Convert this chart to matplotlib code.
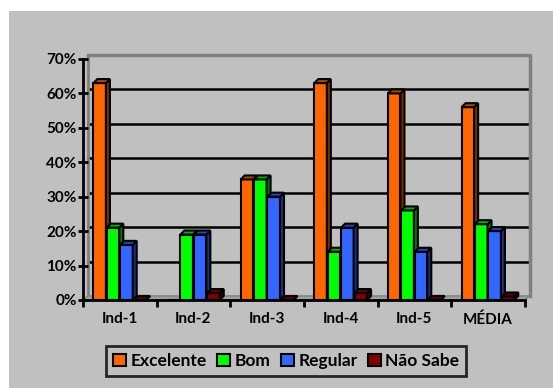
import numpy as np
import matplotlib.pyplot as plt
from matplotlib.patches import Polygon, Rectangle

# data
categories = ['Ind-1', 'Ind-2', 'Ind-3', 'Ind-4', 'Ind-5', 'MÉDIA']
series = ['Excelente', 'Bom', 'Regular', 'Não Sabe']
excelente = [0.63, 0.00, 0.35, 0.63, 0.60, 0.56]
bom = [0.21, 0.19, 0.35, 0.14, 0.26, 0.22]
regular = [0.16, 0.19, 0.30, 0.21, 0.14, 0.20]
nao_sabe = [0.00, 0.02, 0.00, 0.02, 0.00, 0.01]
yticks = [0, 0.1, 0.2, 0.3, 0.4, 0.5, 0.6, 0.7]

values = [excelente, bom, regular, nao_sabe]
front = ['#ff6600', '#00ff00', '#3366ff', '#800000']
side = ['#7a3000', '#007a00', '#1a3380', '#400000']
top = ['#b34700', '#00b300', '#2447b3', '#5a0000']

plt.rcParams['font.family'] = ['Lato', 'DejaVu Sans']
plt.rcParams['font.weight'] = 'bold'

fig = plt.figure(figsize=(5.53, 3.88), dpi=100, facecolor='white')
fig.patches.append(Rectangle((9 / 553, 0), 1, 1 - 11 / 388, transform=fig.transFigure,
                             facecolor='#c0c0c0', edgecolor='none', zorder=-10))
ax = fig.add_axes([0.150, 0.227, 0.799, 0.621])
ax.set_facecolor('none')
ax.set_xlim(-0.5, 5.5)
ax.set_ylim(0, 0.7)

# 3d depth in data units (about 4-5 px)
dx, dy = 0.068, 0.0116
bdx, bdy = 0.054, 0.0116

# back wall gridlines and frame
for t in yticks[1:-1]:
    ax.plot([-0.5 + dx, 5.5 + dx], [t + dy, t + dy], color='black', lw=1.8,
            clip_on=False, zorder=1)
ax.plot([-0.5 + dx, 5.5 + dx, 5.5 + dx], [0.7 + dy, 0.7 + dy, dy], color='#808080',
        lw=2.5, clip_on=False, zorder=1)
ax.plot([-0.5 + dx, -0.5 + dx], [dy, 0.7 + dy], color='#808080', lw=2, clip_on=False, zorder=1)
ax.add_patch(Polygon([(-0.5, 0), (5.5, 0), (5.5 + dx, dy), (-0.5 + dx, dy)], closed=True,
                     facecolor='#a0a0a0', edgecolor='#808080', lw=1, clip_on=False, zorder=1))

x = np.arange(len(categories))
w = 0.17
step = 0.182
for i, vals in enumerate(values):
    xs = x + (i - 1.5) * step
    ax.bar(xs, vals, w, color=front[i], edgecolor='black', lw=1.5, zorder=3 + i)
    for xc, v in zip(xs, vals):
        if v == 0 and i < 3:
            continue
        l, r = xc - w / 2, xc + w / 2
        ax.add_patch(Polygon([(r, 0), (r + bdx, bdy), (r + bdx, v + bdy), (r, v)], closed=True,
                             facecolor=side[i], edgecolor='black', lw=1.5, zorder=3 + i))
        ax.add_patch(Polygon([(l, v), (l + bdx, v + bdy), (r + bdx, v + bdy), (r, v)], closed=True,
                             facecolor=top[i], edgecolor='black', lw=1.5, zorder=3 + i))

# axes
for s in ['top', 'right']:
    ax.spines[s].set_visible(False)
ax.spines['left'].set_linewidth(2)
ax.spines['bottom'].set_linewidth(2)
ax.spines['left'].set_zorder(10)
ax.spines['bottom'].set_zorder(10)
ax.set_yticks(yticks)
ax.set_yticklabels([f'{int(round(t * 100))}%' for t in yticks], fontsize=11, fontweight='bold')
ax.tick_params(axis='y', direction='inout', length=7, width=2, pad=1)
ax.set_xticks(np.arange(-0.5, 6, 1))
ax.set_xticklabels([])
ax.set_xticks(x, minor=True)
ax.set_xticklabels(categories, minor=True, fontsize=11, fontweight='bold')
ax.tick_params(axis='x', which='major', direction='out', length=5, width=2)
ax.tick_params(axis='x', which='minor', length=0, pad=9)

handles = [Rectangle((0, 0), 1, 1, facecolor=c, edgecolor='black', lw=1.5) for c in front]
leg = fig.legend(handles, series, loc='center', bbox_to_anchor=(0.518, 0.0696), ncol=4,
                 prop={'weight': 'bold', 'size': 12.5}, frameon=True, fancybox=False,
                 handlelength=0.75, handleheight=0.75, handletextpad=0.25, columnspacing=0.6,
                 borderpad=0.4)
leg.get_frame().set_edgecolor('black')
leg.get_frame().set_linewidth(2)
leg.get_frame().set_facecolor('#c0c0c0')

fig.savefig('out.png', dpi=100, facecolor=fig.get_facecolor())
